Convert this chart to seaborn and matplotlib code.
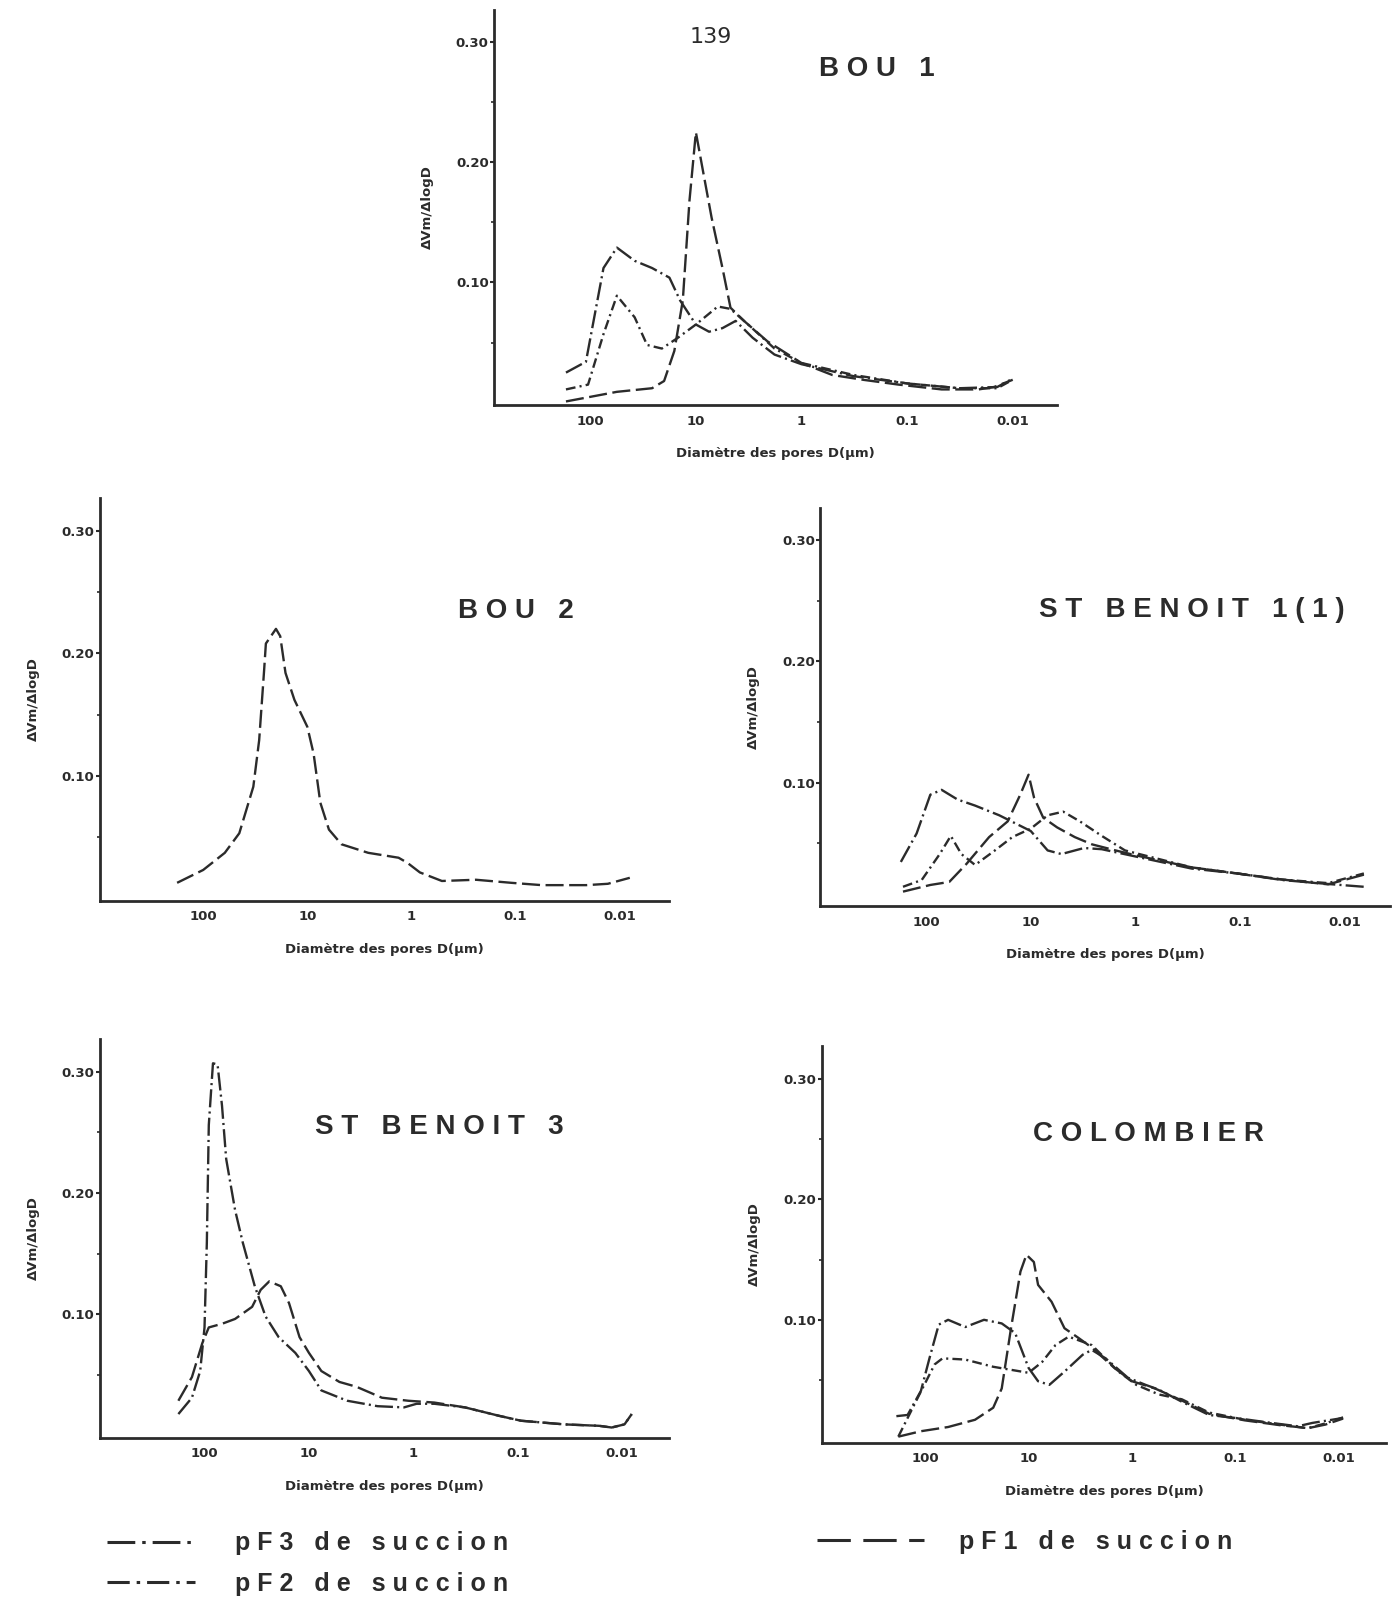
import matplotlib
matplotlib.use("Agg")
import matplotlib.pyplot as plt
import seaborn as sns
from matplotlib.lines import Line2D
from matplotlib.ticker import FixedLocator, NullLocator

# ---------------- data ----------------
PAGE_NUMBER = "139"
X_TICKS = [100, 10, 1, 0.1, 0.01]
X_TICK_LABELS = ["100", "10", "1", "0.1", "0.01"]
Y_TICKS = [0.10, 0.20, 0.30]
Y_TICK_LABELS = ["0.10", "0.20", "0.30"]
Y_MINOR = [0.05, 0.15, 0.25]
X_LABEL = "Diamètre des pores D(µm)"
Y_LABEL = "ΔVm/ΔlogD"
TITLES = ["B O U   1", "B O U   2", "S T   B E N O I T   1 ( 1 )",
          "S T   B E N O I T   3", "C O L O M B I E R"]
LEGEND_LABELS = {"pF3": "p F 3   d e   s u c c i o n",
                 "pF2": "p F 2   d e   s u c c i o n",
                 "pF1": "p F 1   d e   s u c c i o n"}

# BOU 1
BOU1_PF1_D = [170, 56, 26, 20, 16, 13.3, 11.5, 10, 8.7, 7.1, 5.6, 4.7, 3.5, 2.1, 1.0, 0.51, 0.26, 0.12, 0.047, 0.021, 0.015, 0.010]
BOU1_PF1_V = [0.001, 0.009, 0.012, 0.018, 0.043, 0.085, 0.168, 0.225, 0.196, 0.154, 0.112, 0.079, 0.068, 0.051, 0.033, 0.023, 0.019, 0.015, 0.011, 0.011, 0.013, 0.019]
BOU1_PF3_D = [170, 110, 75, 56, 38, 26, 17.8, 14.1, 10, 7.5, 5.6, 4.2, 2.9, 1.8, 1.0, 0.32, 0.1, 0.032, 0.014, 0.010]
BOU1_PF3_V = [0.025, 0.034, 0.112, 0.129, 0.118, 0.112, 0.104, 0.085, 0.065, 0.059, 0.062, 0.068, 0.054, 0.040, 0.032, 0.022, 0.016, 0.012, 0.013, 0.020]
BOU1_PF2_D = [170, 105, 75, 56, 38, 29, 21, 14.8, 10, 6.2, 4.7, 3.2, 1.8, 1.0, 0.32, 0.1, 0.032, 0.014, 0.010]
BOU1_PF2_V = [0.011, 0.015, 0.057, 0.089, 0.071, 0.048, 0.045, 0.054, 0.065, 0.080, 0.078, 0.065, 0.045, 0.033, 0.023, 0.016, 0.012, 0.012, 0.019]

# BOU 2
BOU2_PF1_D = [178, 100, 62, 45, 33, 29, 26, 25, 20, 18.2, 16.2, 13.3, 10, 8.7, 7.5, 6.2, 4.7, 2.6, 1.33, 1.1, 0.83, 0.51, 0.24, 0.11, 0.056, 0.021, 0.013, 0.008]
BOU2_PF1_V = [0.0125, 0.023, 0.037, 0.053, 0.091, 0.129, 0.186, 0.208, 0.220, 0.214, 0.184, 0.162, 0.140, 0.118, 0.078, 0.056, 0.044, 0.037, 0.033, 0.029, 0.021, 0.014, 0.015, 0.0125, 0.0106, 0.0106, 0.0117, 0.0166]

# ST BENOIT 1(1)
SB1_PF3_D = [174, 123, 91, 71, 50, 34, 20, 10, 6.9, 5.1, 3.1, 2.1, 1.0, 0.29, 0.107, 0.040, 0.0145, 0.0066]
SB1_PF3_V = [0.0345, 0.058, 0.090, 0.094, 0.086, 0.081, 0.073, 0.060, 0.044, 0.041, 0.046, 0.045, 0.039, 0.029, 0.025, 0.0196, 0.0163, 0.014]
SB1_PF2_D = [166, 110, 74, 58, 46, 34, 22, 15, 10, 6.9, 4.9, 3.4, 2.1, 1.26, 0.29, 0.107, 0.040, 0.0145, 0.0066]
SB1_PF2_V = [0.014, 0.0196, 0.041, 0.056, 0.041, 0.032, 0.044, 0.055, 0.062, 0.073, 0.076, 0.068, 0.056, 0.044, 0.030, 0.025, 0.020, 0.017, 0.025]
SB1_PF1_D = [166, 91, 60, 41, 25, 16.6, 12.6, 10.5, 9.3, 7.6, 5.6, 3.8, 2.6, 1.55, 1.0, 0.29, 0.107, 0.040, 0.0145, 0.0066]
SB1_PF1_V = [0.010, 0.0155, 0.018, 0.033, 0.055, 0.068, 0.090, 0.1065, 0.0875, 0.071, 0.063, 0.055, 0.049, 0.044, 0.040, 0.030, 0.025, 0.020, 0.016, 0.024]

# ST BENOIT 3
SB3_PF3_D = [178, 132, 110, 100, 95, 91, 83, 75, 68, 62, 51, 43, 33, 26, 19.5, 13.5, 10, 7.6, 4.3, 2.2, 1.23, 0.93, 0.63, 0.32, 0.15, 0.093, 0.036, 0.0166, 0.0126, 0.0095, 0.0081]
SB3_PF3_V = [0.0175, 0.031, 0.053, 0.089, 0.159, 0.256, 0.307, 0.306, 0.272, 0.228, 0.186, 0.159, 0.123, 0.098, 0.081, 0.068, 0.053, 0.037, 0.0285, 0.024, 0.023, 0.026, 0.026, 0.023, 0.016, 0.012, 0.009, 0.0078, 0.0064, 0.009, 0.0175]
SB3_PF1_D = [178, 132, 105, 91, 68, 51, 35, 29, 24, 18.6, 15.5, 12.3, 10, 7.6, 5.1, 3.5, 2.0, 1.12, 0.63, 0.32, 0.15, 0.093, 0.036, 0.0166, 0.0126, 0.0095, 0.0081]
SB3_PF1_V = [0.0285, 0.048, 0.076, 0.089, 0.092, 0.096, 0.106, 0.120, 0.127, 0.123, 0.109, 0.081, 0.068, 0.053, 0.044, 0.040, 0.031, 0.0285, 0.027, 0.023, 0.016, 0.012, 0.009, 0.0078, 0.0064, 0.009, 0.0175]

# COLOMBIER
COL_PF3_D = [190, 148, 110, 91, 74, 60, 41, 27, 18.2, 13.5, 10, 8.1, 6.3, 4.5, 3.0, 2.45, 1.8, 1.1, 0.74, 0.55, 0.33, 0.18, 0.1, 0.045, 0.025, 0.018, 0.0091]
COL_PF3_V = [0.020, 0.021, 0.041, 0.068, 0.096, 0.100, 0.094, 0.100, 0.097, 0.089, 0.060, 0.049, 0.046, 0.057, 0.071, 0.075, 0.068, 0.052, 0.046, 0.042, 0.032, 0.021, 0.0185, 0.0144, 0.0116, 0.0144, 0.0185]
COL_PF2_D = [182, 117, 81, 68, 41, 22, 10, 7.4, 5.5, 4.1, 2.45, 1.35, 0.91, 0.55, 0.33, 0.18, 0.081, 0.037, 0.020, 0.0135, 0.0091]
COL_PF2_V = [0.003, 0.036, 0.063, 0.068, 0.067, 0.061, 0.056, 0.065, 0.079, 0.086, 0.079, 0.057, 0.046, 0.038, 0.034, 0.023, 0.017, 0.013, 0.010, 0.014, 0.019]
COL_PF1_D = [182, 110, 60, 33, 22, 18.2, 14.8, 12, 10.5, 8.9, 8.1, 6.0, 4.5, 3.3, 2.45, 1.48, 1.0, 0.6, 0.33, 0.18, 0.081, 0.037, 0.025, 0.020, 0.0135, 0.0091]
COL_PF1_V = [0.003, 0.0075, 0.011, 0.017, 0.027, 0.043, 0.093, 0.140, 0.154, 0.148, 0.129, 0.115, 0.093, 0.085, 0.077, 0.060, 0.049, 0.043, 0.033, 0.022, 0.0165, 0.0125, 0.011, 0.010, 0.013, 0.018]

# ---------------- styling / layout ----------------
INK = "#2b2b2b"
LINE_STYLES = {"pF1": (0, (13, 4)),
               "pF2": (0, (7, 3, 1.5, 3)),
               "pF3": (0, (13, 3, 1.5, 3))}
LEGEND_STYLES = {"pF1": (0, (24, 9)),
                 "pF2": (0, (16, 5, 2.5, 5)),
                 "pF3": (0, (20, 5, 2.5, 5))}

PANELS = [
    dict(title=TITLES[0], pos=[0.353, 0.747, 0.402, 0.247], xlim=(813, 0.0038), txy=(0.679, 0.85),
         curves=[("pF3", BOU1_PF3_D, BOU1_PF3_V), ("pF2", BOU1_PF2_D, BOU1_PF2_V), ("pF1", BOU1_PF1_D, BOU1_PF1_V)]),
    dict(title=TITLES[1], pos=[0.0715, 0.4375, 0.406, 0.2515], xlim=(977, 0.0034), txy=(0.731, 0.72),
         curves=[("pF1", BOU2_PF1_D, BOU2_PF1_V)]),
    dict(title=TITLES[2], pos=[0.586, 0.434, 0.407, 0.249], xlim=(1020, 0.0037), txy=(0.651, 0.742),
         curves=[("pF3", SB1_PF3_D, SB1_PF3_V), ("pF2", SB1_PF2_D, SB1_PF2_V), ("pF1", SB1_PF1_D, SB1_PF1_V)]),
    dict(title=TITLES[3], pos=[0.0715, 0.102, 0.406, 0.249], xlim=(1000, 0.0036), txy=(0.596, 0.78),
         curves=[("pF3", SB3_PF3_D, SB3_PF3_V), ("pF1", SB3_PF1_D, SB3_PF1_V)]),
    dict(title=TITLES[4], pos=[0.587, 0.0989, 0.403, 0.2475], xlim=(1000, 0.0035), txy=(0.579, 0.78),
         curves=[("pF3", COL_PF3_D, COL_PF3_V), ("pF2", COL_PF2_D, COL_PF2_V), ("pF1", COL_PF1_D, COL_PF1_V)]),
]

sns.set_style("ticks")
plt.rcParams["font.family"] = ["DejaVu Sans"]
plt.rcParams["lines.scale_dashes"] = False

fig = plt.figure(figsize=(14, 16.01), dpi=100)
fig.patch.set_facecolor("white")

small_font = dict(family="DejaVu Sans", weight="bold", size=9.5)

for p in PANELS:
    ax = fig.add_axes(p["pos"])
    ax.set_xscale("log")
    for key, d, v in p["curves"]:
        sns.lineplot(x=d, y=v, ax=ax, color=INK, linewidth=1.7,
                     linestyle=LINE_STYLES[key], estimator=None, sort=False,
                     legend=False)
    ax.set_xlim(*p["xlim"])
    ax.set_ylim(-0.002, 0.327)
    ax.xaxis.set_major_locator(FixedLocator(X_TICKS))
    ax.xaxis.set_minor_locator(NullLocator())
    ax.set_xticklabels(X_TICK_LABELS, fontdict=small_font)
    ax.set_yticks(Y_TICKS)
    ax.set_yticklabels(Y_TICK_LABELS, fontdict=small_font)
    ax.set_yticks(Y_MINOR, minor=True)
    ax.tick_params(axis="x", length=0, pad=7, colors=INK)
    ax.tick_params(axis="y", which="major", length=3, width=1.5, pad=1, colors=INK)
    ax.tick_params(axis="y", which="minor", length=2, width=1.2, colors=INK)
    sns.despine(ax=ax)
    for s in ("left", "bottom"):
        ax.spines[s].set_linewidth(2.0)
        ax.spines[s].set_color(INK)
    ax.set_xlabel(X_LABEL, fontdict=small_font, labelpad=14, color=INK)
    ax.set_ylabel(Y_LABEL, fontdict=small_font, labelpad=16, color=INK)
    ax.text(p["txy"][0], p["txy"][1], p["title"], transform=ax.transAxes,
            ha="center", va="center", fontsize=20, fontweight="bold",
            family="Liberation Sans", color=INK)

fig.text(0.5077, 0.977, PAGE_NUMBER, ha="center", va="center",
         fontsize=16, color=INK)

def proxy(key):
    return Line2D([], [], color=INK, linewidth=2.2, linestyle=LEGEND_STYLES[key])

leg_prop = dict(family="Liberation Sans", weight="bold", size=18)
fig.legend(handles=[proxy("pF3"), proxy("pF2")],
           labels=[LEGEND_LABELS["pF3"], LEGEND_LABELS["pF2"]],
           loc="upper left", bbox_to_anchor=(0.0766, 0.0435), frameon=False,
           prop=leg_prop, handlelength=3.5, handletextpad=1.6,
           labelspacing=0.65, borderpad=0, borderaxespad=0, labelcolor=INK)
fig.legend(handles=[proxy("pF1")], labels=[LEGEND_LABELS["pF1"]],
           loc="upper left", bbox_to_anchor=(0.5835, 0.0445), frameon=False,
           prop=leg_prop, handlelength=4.3, handletextpad=1.4,
           borderpad=0, borderaxespad=0, labelcolor=INK)

fig.savefig("out.png", dpi=100, facecolor="white")
